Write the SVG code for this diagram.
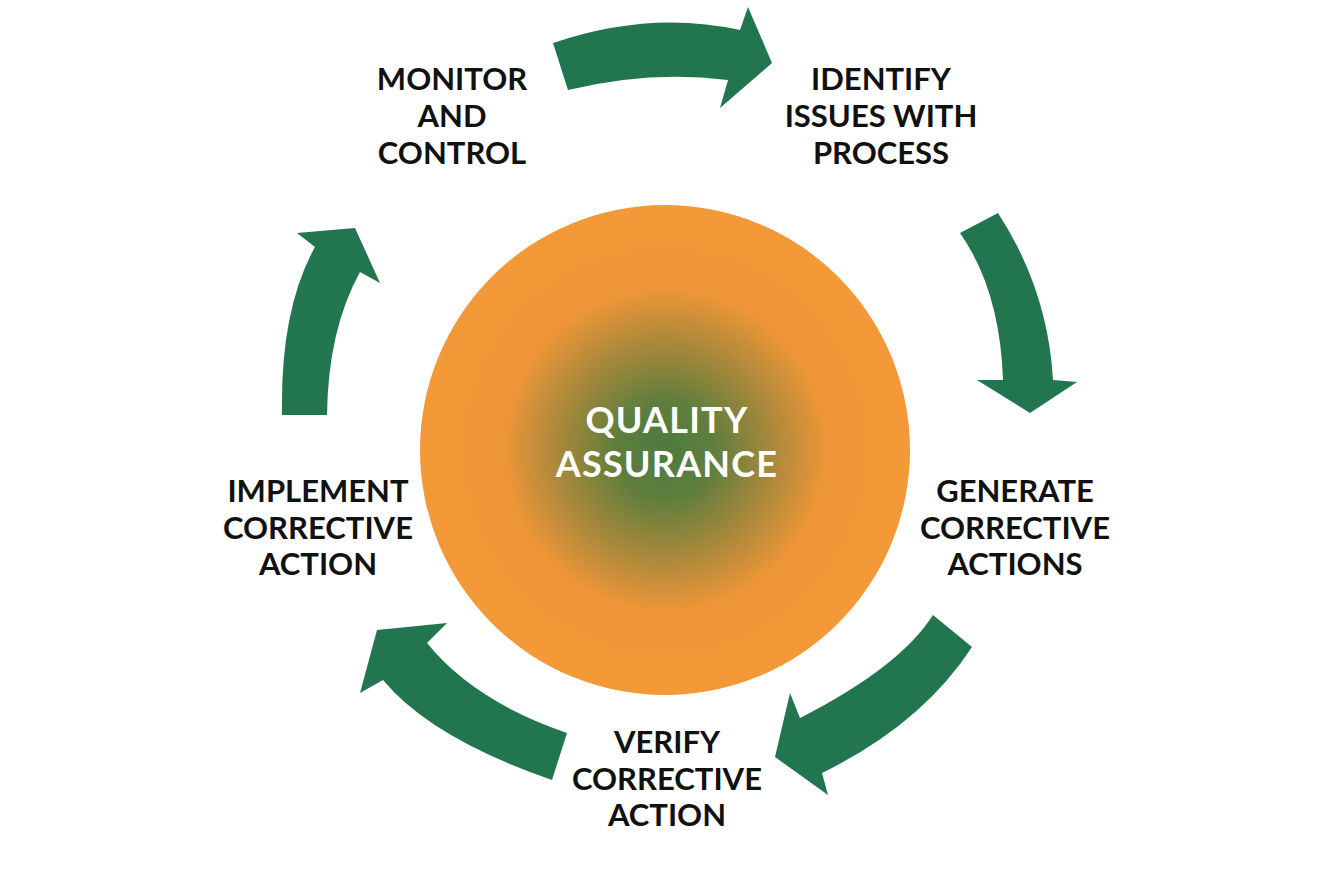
<svg xmlns="http://www.w3.org/2000/svg" width="1334" height="889" viewBox="0 0 1334 889">
<defs>
<radialGradient id="qa" cx="665" cy="450" r="245" gradientUnits="userSpaceOnUse">
<stop offset="0" stop-color="#4d7b40"/>
<stop offset="0.2" stop-color="#5f7e3d"/>
<stop offset="0.45" stop-color="#ad893b"/>
<stop offset="0.66" stop-color="#ee9637"/>
<stop offset="1" stop-color="#f39937"/>
</radialGradient>
<style>
.lbl{font-family:"Lato","Liberation Sans",sans-serif;font-weight:700;font-size:31px;fill:#111;text-anchor:middle}
.ctr{font-family:"Lato","Liberation Sans",sans-serif;font-weight:700;font-size:36px;letter-spacing:1.2px;fill:#fff;text-anchor:middle}
.arr{fill:#21754f}
</style>
</defs>
<rect width="1334" height="889" fill="#fff"/>
<g id="center">
<circle cx="665" cy="450" r="245" fill="url(#qa)"/>
<text class="ctr" x="667" y="433">QUALITY</text>
<text class="ctr" x="667" y="477">ASSURANCE</text>
</g>
<g id="connectors">
<path class="arr" d="M553,43 Q650,10 740,30 L748,7 L772,63 L720,108 L728,80 Q650,70 568,90 Z"/>
<path class="arr" d="M960,233 L998,213 Q1048,290 1053,380 L1077,382 L1030,413 L977,380 L1003,380 Q1000,290 960,233 Z"/>
<path class="arr" d="M933,615 L972,647 Q922,724 822,773 L828,795 L775,757 L790,693 L800,718 Q900,667 933,615 Z"/>
<path class="arr" d="M567,733 L552,780 Q431,738 383,680 L360,693 L377,630 L447,623 L427,643 Q474,701 567,733 Z"/>
<path class="arr" d="M282,415 Q280,310 315,247 L297,233 L355,228 L380,283 L360,272 Q328,330 327,415 Z"/>
</g>
<g id="monitor">
<text class="lbl" x="452" y="90">MONITOR</text>
<text class="lbl" x="452" y="127">AND</text>
<text class="lbl" x="452" y="164">CONTROL</text>
</g>
<g id="identify">
<text class="lbl" x="881" y="90">IDENTIFY</text>
<text class="lbl" x="881" y="127">ISSUES WITH</text>
<text class="lbl" x="881" y="164">PROCESS</text>
</g>
<g id="generate">
<text class="lbl" x="1015" y="502">GENERATE</text>
<text class="lbl" x="1015" y="539">CORRECTIVE</text>
<text class="lbl" x="1015" y="575">ACTIONS</text>
</g>
<g id="verify">
<text class="lbl" x="667" y="753">VERIFY</text>
<text class="lbl" x="667" y="790">CORRECTIVE</text>
<text class="lbl" x="667" y="826">ACTION</text>
</g>
<g id="implement">
<text class="lbl" x="318" y="502">IMPLEMENT</text>
<text class="lbl" x="318" y="539">CORRECTIVE</text>
<text class="lbl" x="318" y="575">ACTION</text>
</g>
</svg>
